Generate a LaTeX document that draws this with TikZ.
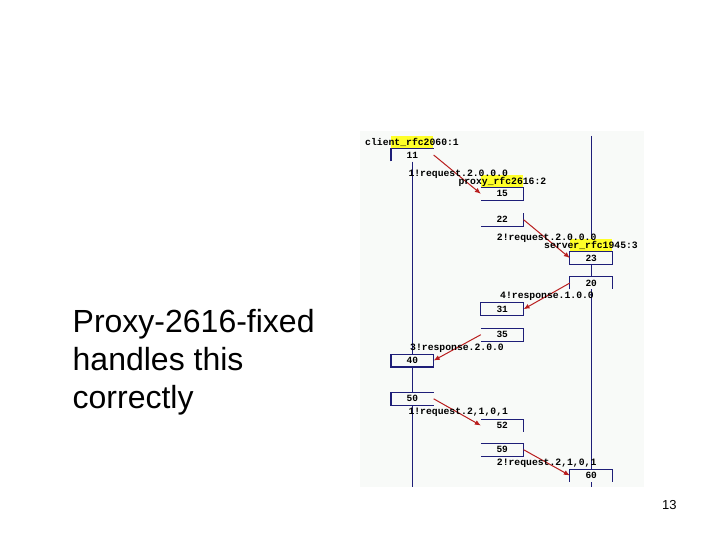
\documentclass[tikz,border=0pt]{standalone}
\usepackage{fontspec}
\setmainfont{Liberation Sans}
\newfontfamily\chartfont{Liberation Mono}
\usetikzlibrary{arrows.meta}
\definecolor{chartbg}{RGB}{248,250,248}
\definecolor{navyline}{RGB}{30,30,120}
\definecolor{msgred}{RGB}{185,30,30}
\definecolor{hdryellow}{RGB}{255,255,40}
\tikzset{
  life/.style={draw=navyline, line width=1.1pt},
  evbox/.style={fill=chartbg, minimum width=42.3pt, minimum height=12.5pt, inner sep=0pt,
     font=\chartfont\bfseries\fontsize{9.5}{10}\selectfont},
  hdr/.style={fill=hdryellow, minimum width=42.3pt, minimum height=12.5pt, inner sep=0pt},
  hdrtext/.style={anchor=base west, inner sep=0pt, font=\chartfont\bfseries\fontsize{9.75}{10}\selectfont},
  msglabel/.style={anchor=west, inner sep=0pt, font=\chartfont\bfseries\fontsize{9.75}{10}\selectfont},
  msg/.style={draw=msgred, line width=1pt, -{Latex[length=6pt,width=5pt]}},
  bigtext/.style={anchor=base west, inner sep=0pt, font=\fontsize{32}{38}\selectfont}
}
\begin{document}
\begin{tikzpicture}[x=1pt,y=-1pt]
\useasboundingbox (0,0) rectangle (720,540);
\fill[white] (0,0) rectangle (720,540);
\fill[chartbg] (360,131) rectangle (644,487);

% lifelines
\coordinate (cl0) at (412.3,161.7);
\coordinate (cl1) at (412.3,487);
\coordinate (sl0) at (591.2,136);
\coordinate (sl1) at (591.2,487);
\draw[life] (cl0) -- (cl1);
\draw[life] (sl0) -- (sl1);

% headers
\node[hdr] (hc) at (412.3,142.2) {};
\node[hdr] (hp) at (502.2,181) {};
\node[hdr] (hs) at (591.2,245.3) {};

% event boxes
\node[evbox] (e11) at (412.3,155) {11};
\node[evbox] (e15) at (502.2,193.8) {15};
\node[evbox] (e22) at (502.2,219.7) {22};
\node[evbox] (e23) at (591.2,258) {23};
\node[evbox] (e20) at (591.2,283) {20};
\node[evbox] (e31) at (502.2,309.2) {31};
\node[evbox] (e35) at (502.2,334.7) {35};
\node[evbox] (e40) at (412.3,360.5) {40};
\node[evbox] (e50) at (412.3,398.8) {50};
\node[evbox] (e52) at (502.2,425.5) {52};
\node[evbox] (e59) at (502.2,449.7) {59};
\node[evbox] (e60) at (591.2,475.5) {60};

% box sides
\draw[life] (e11.south west) -- (e11.north west) -- (e11.north east);
\draw[life] (e15.north west) -- (e15.north east) -- (e15.south east) -- (e15.south west);
\draw[life] (e22.north east) -- (e22.south east) -- (e22.south west);
\draw[life] (e23.north west) rectangle (e23.south east);
\draw[life] (e20.south west) -- (e20.north west) -- (e20.north east) -- (e20.south east);
\draw[life] (e31.north west) rectangle (e31.south east);
\draw[life] (e35.north west) -- (e35.north east) -- (e35.south east) -- (e35.south west);
\draw[life] (e40.north west) rectangle (e40.south east);
\draw[life] (e50.north east) -- (e50.north west) -- (e50.south west) -- (e50.south east);
\draw[life] (e52.north west) -- (e52.north east) -- (e52.south east);
\draw[life] (e59.north west) -- (e59.north east) -- (e59.south east) -- (e59.south west);
\draw[life] (e60.south west) -- (e60.north west) -- (e60.north east) -- (e60.south east);

% messages
\draw[msg] (e11.east) -- (e15.west);
\draw[msg] (e22.east) -- (e23.west);
\draw[msg] (e20.west) -- (e31.east);
\draw[msg] (e35.west) -- (e40.east);
\draw[msg] (e50.east) -- (e52.west);
\draw[msg] (e59.east) -- (e60.west);

% header texts
\node[hdrtext] (tc) at (365,146) {client\_rfc2060:1};
\node[hdrtext] (tp) at (458.3,184.6) {proxy\_rfc2616:2};
\node[hdrtext] (ts) at (544,248.8) {server\_rfc1945:3};

% message labels
\node[msglabel] (m1) at (408.3,174.6) {1!request.2.0.0.0};
\node[msglabel] (m2) at (496.7,238.6) {2!request.2.0.0.0};
\node[msglabel] (m4) at (500,296.7) {4!response.1.0.0};
\node[msglabel] (m3) at (410,348.3) {3!response.2.0.0};
\node[msglabel] (m5) at (408.3,412.7) {1!request.2,1,0,1};
\node[msglabel] (m6) at (496.7,463.3) {2!request.2,1,0,1};

% slide text
\node[bigtext] (l1) at (72.5,332) {Proxy-2616-fixed};
\node[bigtext] (l2) at (72.5,370) {handles this};
\node[bigtext] (l3) at (72.5,408) {correctly};
\node[anchor=base, inner sep=0pt, font=\fontsize{13}{14}\selectfont] (pg) at (669.3,509.3) {13};
\end{tikzpicture}
\end{document}
